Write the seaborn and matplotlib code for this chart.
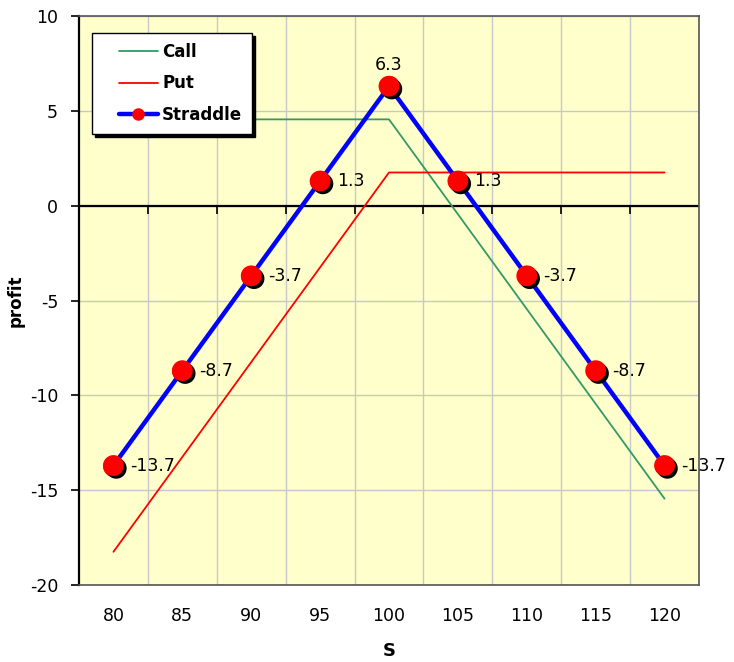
import matplotlib
matplotlib.use("Agg")
import matplotlib.pyplot as plt
import matplotlib.patheffects as pe
from matplotlib.lines import Line2D
from matplotlib.legend_handler import HandlerLine2D
import numpy as np
import pandas as pd
import seaborn as sns

# Stock price scenarios (categories) and profit of each position
prices = [80, 85, 90, 95, 100, 105, 110, 115, 120]
call_profit = [4.55, 4.55, 4.55, 4.55, 4.55, -0.45, -5.45, -10.45, -15.45]
put_profit = [-18.25, -13.25, -8.25, -3.25, 1.75, 1.75, 1.75, 1.75, 1.75]
straddle_profit = [-13.7, -8.7, -3.7, 1.3, 6.3, 1.3, -3.7, -8.7, -13.7]
y_ticks = [-20, -15, -10, -5, 0, 5, 10]

pos = list(range(len(prices)))
df = pd.DataFrame({"pos": pos, "S": prices, "Call": call_profit,
                   "Put": put_profit, "Straddle": straddle_profit})

sns.set_theme(style="white")
plt.rcParams["font.family"] = ["DejaVu Sans"]
plt.rcParams["text.color"] = "black"
plt.rcParams["axes.labelcolor"] = "black"

fig = plt.figure(figsize=(7.34, 6.62), dpi=100)
ax = fig.add_axes([79 / 734, 77 / 662, 620 / 734, 569 / 662])
ax.set_facecolor("#FFFFCC")

# Gridlines: horizontal at each value tick, vertical between categories
for yv in y_ticks:
    ax.axhline(yv, color="#C8C8C8", lw=1.0, zorder=0)
for b in np.arange(0.5, len(prices) - 0.5, 1):
    ax.axvline(b, color="#C8C8C8", lw=1.0, zorder=0)
# Category axis line crossing at zero
ax.axhline(0, color="black", lw=1.6, zorder=1)

sns.lineplot(data=df, x="pos", y="Call", ax=ax, color="#339966", lw=1.3,
             label="Call", zorder=3)
sns.lineplot(data=df, x="pos", y="Put", ax=ax, color="#FF0000", lw=1.3,
             label="Put", zorder=3)
sns.lineplot(data=df, x="pos", y="Straddle", ax=ax, color="#0000FF", lw=3.2,
             marker="o", markersize=15, markerfacecolor="#FF0000",
             markeredgecolor="#FF0000", markeredgewidth=0, label="Straddle",
             zorder=4)

# Straddle markers again, with a drop shadow
mk = ax.plot(df["pos"], df["Straddle"], ls="none", marker="o", markersize=15,
             markerfacecolor="#FF0000", markeredgewidth=0, zorder=5)[0]
mk.set_path_effects([pe.SimplePatchShadow(offset=(2, -2), shadow_rgbFace="black",
                                          alpha=1.0), pe.Normal()])

# Value labels
for x, v in zip(df["pos"], df["Straddle"]):
    if v == max(straddle_profit):
        ax.annotate(f"{v:.1f}", (x, v), xytext=(0, 9), textcoords="offset points",
                    ha="center", va="bottom", fontsize=12.5, zorder=6)
    else:
        ax.annotate(f"{v:.1f}", (x, v), xytext=(12, 0), textcoords="offset points",
                    ha="left", va="center", fontsize=12.5, zorder=6)

ax.set_xlim(-0.5, len(prices) - 0.5)
ax.set_ylim(-20, 10)
ax.set_yticks(y_ticks)
ax.set_yticklabels([str(t) for t in y_ticks])
ax.set_xticks(pos)
ax.set_xticklabels([str(p) for p in prices])
ax.tick_params(axis="x", length=0, pad=16, labelsize=12.5, colors="black")
ax.tick_params(axis="y", length=6, width=1.2, direction="out", left=True,
               pad=9, labelsize=12.5, colors="black")

for side in ["top", "right", "bottom"]:
    ax.spines[side].set_color("#555555")
    ax.spines[side].set_linewidth(1.2)
ax.spines["left"].set_color("black")
ax.spines["left"].set_linewidth(1.6)

# Tick marks between categories on the zero line
zero_frac = (0 - (-20)) / 30
sec = ax.secondary_xaxis(zero_frac)
sec.set_xticks(np.arange(0.5, len(prices) - 0.5, 1))
sec.tick_params(axis="x", direction="out", length=6, width=1.2, labelbottom=False,
                labeltop=False, bottom=True, top=False, colors="black")
for side in ["top", "left", "right", "bottom"]:
    sec.spines[side].set_visible(False)

ax.set_xlabel("S", fontsize=13, fontweight="bold", labelpad=12)
ax.set_ylabel("profit", fontsize=12, fontweight="bold", labelpad=4)

leg = ax.legend(loc="upper left", bbox_to_anchor=(0.021, 0.970), borderaxespad=0,
                frameon=True, fancybox=False, shadow={"color": "black", "alpha": 1.0},
                prop={"weight": "bold", "size": 12}, handlelength=3.35,
                borderpad=0.6, labelspacing=0.8, handletextpad=0.25,
                handler_map={Line2D: HandlerLine2D(xpad=1.0)})
leg.get_frame().set_edgecolor("black")
leg.get_frame().set_linewidth(1.0)
leg.get_frame().set_facecolor("white")
for h in leg.legend_handles:
    h.set_markersize(9)
leg.set_zorder(10)

fig.savefig("out.png", dpi=100, facecolor="white")
